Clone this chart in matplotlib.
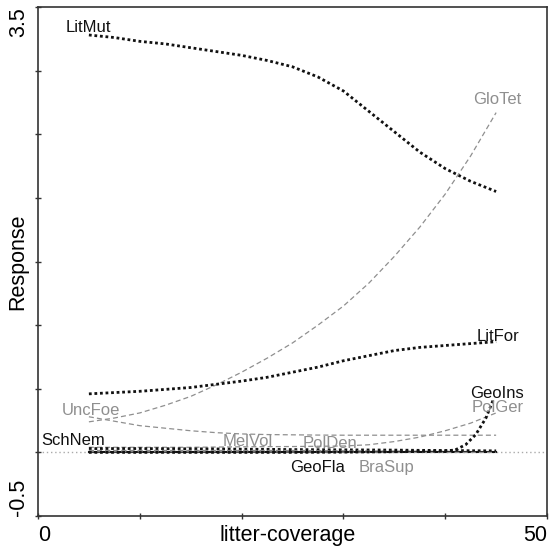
import matplotlib
matplotlib.use("Agg")
import matplotlib.pyplot as plt

plt.rcParams['font.family'] = ['Liberation Sans', 'DejaVu Sans']

# litter-coverage values where curves were read
x = [5, 7.5, 10, 12.5, 15, 17.5, 20, 22.5, 25, 27.5, 30, 32.5, 35, 37.5, 40, 42.5, 45]
x_geo = [5, 10, 15, 20, 25, 30, 35, 40, 41, 42, 43, 44, 44.7]

# response curves
lit_mut = [3.28, 3.26, 3.23, 3.21, 3.18, 3.15, 3.12, 3.08, 3.03, 2.95, 2.84, 2.68,
           2.52, 2.36, 2.23, 2.13, 2.05]
glo_tet = [0.24, 0.27, 0.31, 0.37, 0.44, 0.53, 0.63, 0.74, 0.86, 1.0, 1.15, 1.33,
           1.54, 1.77, 2.03, 2.33, 2.67]
lit_for = [0.46, 0.47, 0.48, 0.495, 0.51, 0.535, 0.56, 0.59, 0.63, 0.67, 0.72, 0.76,
           0.80, 0.825, 0.84, 0.855, 0.87]
unc_foe = [0.28, 0.245, 0.21, 0.19, 0.17, 0.155, 0.145, 0.14, 0.138, 0.136, 0.135,
           0.135, 0.135, 0.135, 0.135, 0.135, 0.135]
pol_ger = [0.04, 0.04, 0.04, 0.04, 0.04, 0.042, 0.044, 0.045, 0.046, 0.048, 0.05,
           0.06, 0.085, 0.12, 0.17, 0.23, 0.31]
sch_nem = [0.03, 0.03, 0.03, 0.029, 0.028, 0.027, 0.025, 0.024, 0.022, 0.021, 0.02,
           0.019, 0.018, 0.016, 0.015, 0.013, 0.012]
mel_vol = [0.015, 0.015, 0.015, 0.015, 0.015, 0.015, 0.015, 0.015, 0.015, 0.014,
           0.012, 0.011, 0.01, 0.009, 0.008, 0.006, 0.005]
pol_den = [0.01, 0.01, 0.01, 0.01, 0.01, 0.01, 0.01, 0.01, 0.01, 0.009, 0.008,
           0.007, 0.006, 0.005, 0.004, 0.003, 0.002]
geo_fla = [0.0] * 17
bra_sup = [0.005, 0.005, 0.005, 0.005, 0.005, 0.005, 0.004, 0.004, 0.003, 0.003,
           0.002, 0.002, 0.001, 0.0, 0.0, 0.0, 0.0]
geo_ins = [0.0, 0.0, 0.0, 0.0, 0.0, 0.002, 0.005, 0.01, 0.02, 0.06, 0.14, 0.27, 0.41]

# species labels
names = ['LitMut', 'GloTet', 'LitFor', 'GeoIns', 'PolGer', 'UncFoe',
         'SchNem', 'MelVol', 'PolDen', 'GeoFla', 'BraSup']
label_dark = [True, False, True, True, False, False, True, False, False, True, False]
label_pos = [(2.75, 3.34), (42.7, 2.77), (43.1, 0.91), (42.4, 0.46), (42.6, 0.35),
             (2.3, 0.33), (0.3, 0.095), (18.1, 0.087), (26.0, 0.07),
             (24.8, -0.12), (31.5, -0.12)]

dark = '#111111'
grey = '#8f8f8f'
dot = (0, (1, 1))
dash = (0, (4, 2.5))

fig = plt.figure(figsize=(5.49, 5.51), dpi=100)
ax = fig.add_axes([0.0692, 0.0635, 0.9272, 0.9238])

ax.axhline(0, color='#aaaaaa', lw=1, ls=(0, (1, 2)), zorder=1)

ax.plot(x, lit_mut, color=dark, lw=2, ls=dot)
ax.plot(x, glo_tet, color=grey, lw=0.9, ls=dash)
ax.plot(x, lit_for, color=dark, lw=2, ls=dot)
ax.plot(x, unc_foe, color=grey, lw=0.9, ls=dash)
ax.plot(x, pol_ger, color=grey, lw=0.9, ls=dash)
ax.plot(x, sch_nem, color=dark, lw=2, ls=dot)
ax.plot(x, mel_vol, color=grey, lw=0.9, ls=dash)
ax.plot(x, pol_den, color=grey, lw=0.9, ls=dash)
ax.plot(x, geo_fla, color=dark, lw=1.5)
ax.plot(x, bra_sup, color=grey, lw=0.9, ls=dash)
ax.plot(x_geo, geo_ins, color=dark, lw=2, ls=dot)

for name, is_dark, (lx, ly) in zip(names, label_dark, label_pos):
    ax.text(lx, ly, name, color=dark if is_dark else grey, fontsize=12,
            ha='left', va='center')

ax.set_xlim(0, 50)
ax.set_ylim(-0.5, 3.5)

xt = [0, 10, 20, 30, 40, 50]
yt = [-0.5, 0, 0.5, 1, 1.5, 2, 2.5, 3, 3.5]
ax.set_xticks(xt)
ax.set_xticklabels(['0', '', '', '', '', '50'], fontsize=15.5)
ax.set_yticks(yt)
ax.set_yticklabels(['-0.5', '', '', '', '', '', '', '', '3.5'], fontsize=15.5,
                   rotation=90)
xl = ax.get_xticklabels()
xl[0].set_ha('left')
xl[-1].set_ha('right')
yl = ax.get_yticklabels()
yl[0].set_va('bottom')
yl[-1].set_va('top')
ax.tick_params(direction='inout', length=5, width=1, color='#333333', pad=4)

ax.set_xlabel('litter-coverage', fontsize=15.5)
ax.set_ylabel('Response', fontsize=15.5)
ax.xaxis.set_label_coords(0.49, -0.039)
ax.yaxis.set_label_coords(-0.039, 0.5)
ax.xaxis.label.set_va('center')
ax.yaxis.label.set_va('center')

for s in ax.spines.values():
    s.set_color('#333333')
    s.set_linewidth(1.2)

fig.savefig('out.png', dpi=100)
